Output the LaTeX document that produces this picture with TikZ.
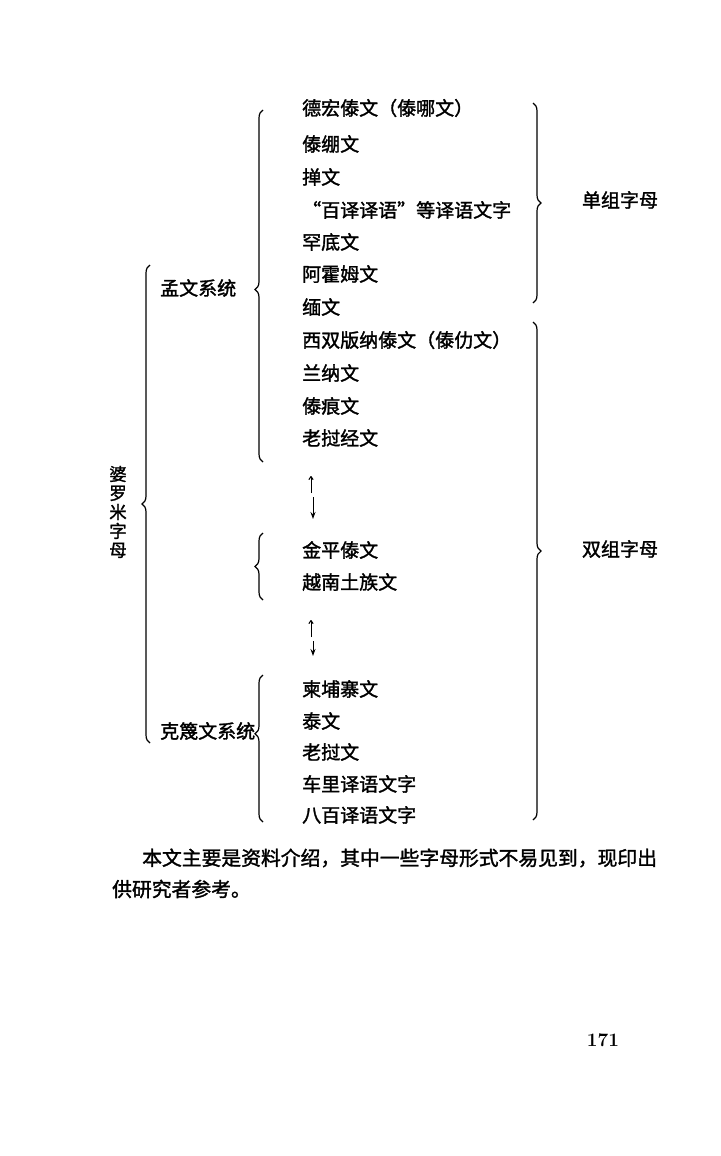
\documentclass[tikz,border=0pt]{standalone}
\usepackage{fontspec}
\newfontfamily\cjk{Noto Sans CJK SC}[FakeBold=1.6]
\usetikzlibrary{decorations.pathreplacing,arrows.meta}

\tikzset{
  item/.style={anchor=west,inner sep=0pt,font=\cjk\fontsize{19pt}{19pt}\selectfont},
  curly/.style={decorate,decoration={brace,amplitude=8pt},line width=1.2pt},
}

\begin{document}
\begin{tikzpicture}[x=1pt,y=-1pt]
      \useasboundingbox (0,0) rectangle (720,1156);
      % left column
      \node[font=\cjk\fontsize{17.5pt}{19pt}\selectfont,align=center,inner sep=0pt] (brahmi) at (118,512) {婆\\罗\\米\\字\\母};
      \node[item] (mon) at (160,288) {孟文系统};
      \node[item] (khmer) at (160,731) {克篾文系统};
      % items
      \node[item] (dehong) at (302,108) {德宏傣文（傣哪文）};
      \node[item] (taipeng) at (302,144) {傣绷文};
      \node[item] (shan) at (302,177) {掸文};
      \node[item] (baiyi) at (302,210) {“百译译语”等译语文字};
      \node[item] (khamti) at (302,242) {罕底文};
      \node[item] (ahom) at (302,274) {阿霍姆文};
      \node[item] (burmese) at (302,307) {缅文};
      \node[item] (xsbn) at (302,340) {西双版纳傣文（傣仂文）};
      \node[item] (lanna) at (302,373) {兰纳文};
      \node[item] (taihen) at (302,406) {傣痕文};
      \node[item] (laojing) at (302,438) {老挝经文};
      \node[item] (jinping) at (302,550) {金平傣文};
      \node[item] (vietnam) at (302,582) {越南土族文};
      \node[item] (cambodia) at (302,689) {柬埔寨文};
      \node[item] (thai) at (302,721) {泰文};
      \node[item] (lao) at (302,752) {老挝文};
      \node[item] (cheli) at (302,784) {车里译语文字};
      \node[item] (babai) at (302,815) {八百译语文字};
      % right labels
      \node[item,anchor=center] (single) at (620,200) {单组字母};
      \node[item,anchor=center] (double) at (620,549) {双组字母};
      % braces
      \draw[curly,decoration={aspect=0.5}] (150,743) -- (150,265);
      \draw[curly,decoration={aspect=0.49}] (263,462) -- (263,110);
      \draw[curly,decoration={aspect=0.5}] (263,600) -- (263,533);
      \draw[curly,decoration={aspect=0.6}] (263,822) -- (263,675);
      \draw[curly,decoration={aspect=0.5}] (533,103) -- (533,303);
      \draw[curly,decoration={aspect=0.46}] (533,322) -- (533,820);
      % arrows
      \coordinate (upA) at (311,493);
      \coordinate (upB) at (311,476);
      \coordinate (dnA) at (313,497);
      \coordinate (dnB) at (313,519);
      \draw[line width=1pt,-{To[length=4pt,width=5pt]}] (upA) -- (upB);
      \draw[line width=1pt,-{Stealth[length=7pt,width=5pt]}] (dnA) -- (dnB);
      \coordinate (upC) at (311,637);
      \coordinate (upD) at (311,620);
      \coordinate (dnC) at (313,641);
      \coordinate (dnD) at (313,656);
      \draw[line width=1pt,-{To[length=4pt,width=5pt]}] (upC) -- (upD);
      \draw[line width=1pt,-{Stealth[length=7pt,width=5pt]}] (dnC) -- (dnD);
      % text below
      \node[anchor=west,inner sep=0pt,font=\cjk\fontsize{19.8pt}{19.8pt}\selectfont] (para1) at (142,858) {本文主要是资料介绍，其中一些字母形式不易见到，现印出};
      \node[anchor=west,inner sep=0pt,font=\cjk\fontsize{19.8pt}{19.8pt}\selectfont] (para2) at (112,889) {供研究者参考。};
      \node[font=\fontsize{19pt}{19pt}\selectfont\bfseries] (page) at (603,1040) {171};
    \end{tikzpicture}
\end{document}
